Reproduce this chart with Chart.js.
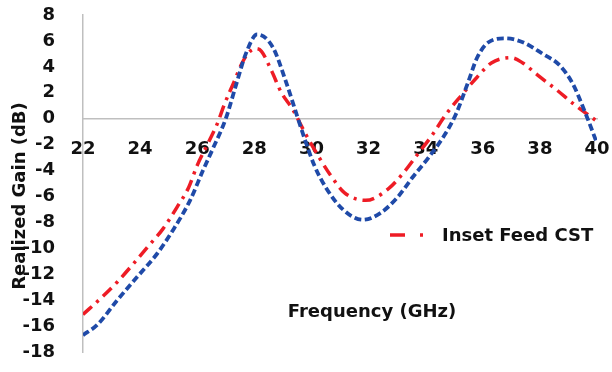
<!DOCTYPE html>
<html>
<head>
<meta charset="utf-8">
<script src="https://cdn.jsdelivr.net/npm/chart.js@4"></script>
<style>
  body { margin: 0; background: #fff; }
  canvas { display: block; }
</style>
</head>
<body>
<canvas id="gainChart" width="612" height="372"></canvas>
<script>
// frequency sweep (GHz) and realized gain (dB) for both curves
const blueFreq = [22, 22.5, 23.2, 23.9, 24.6, 25.15, 25.75, 26.2, 26.55, 27.0, 27.4, 27.7, 28.1, 28.65, 29.1, 29.5,
    29.8, 30.1, 30.5, 31.1, 31.8, 32.4, 33.0, 33.55, 34.1, 34.65, 35.05, 35.5, 35.8, 36.2, 36.8, 37.4, 38.1, 38.7, 39.15, 39.6, 40];
const blueGain = [-16.7, -15.9, -14.0, -12.2, -10.4, -8.6, -6.3, -4.0, -2.3, 0.0, 2.9, 5.0, 6.5, 5.5, 2.9, 0.2,
    -1.8, -3.6, -5.3, -7.0, -7.8, -7.3, -6.1, -4.5, -3.0, -1.3, 0.3, 2.9, 4.7, 5.9, 6.2, 5.9, 5.0, 4.1, 2.7, 0.4, -1.9];

const redFreq = [22, 22.65, 23.2, 23.8, 24.3, 24.8, 25.3, 25.7, 26.0, 26.4, 26.7, 26.96, 27.3, 27.55, 27.8, 28.05, 28.25, 28.6, 28.95, 29.35,
    29.8, 30.3, 30.65, 31.15, 31.9, 32.7, 33.25, 33.7, 34.25, 34.7, 35.25, 35.8, 36.3, 37.0, 37.4, 37.9, 38.6, 39.2, 40];
const redGain = [-15.1, -13.8, -12.6, -11.1, -9.8, -8.5, -6.8, -5.3, -3.6, -1.8, -0.4, 1.15, 2.9, 4.2, 5.1, 5.4, 5.2, 3.7, 2.0, 0.7,
    -1.2, -3.1, -4.3, -5.7, -6.3, -5.4, -4.1, -2.8, -1.2, 0.3, 1.8, 3.2, 4.3, 4.7, 4.3, 3.4, 2.2, 1.1, -0.2];

const xMin = 22, xMax = 40, xStep = 2;
const yMin = -18, yMax = 8, yStep = 2;

const RED = '#ee1c25';
const BLUE = '#1f4aa8';
const FONT = 'bold 18px "DejaVu Sans"';

function toPoints(xs, ys) {
    return xs.map((x, i) => ({ x: x, y: ys[i] }));
}

// axis titles and the single legend entry sit inside the plot area
const labelsPlugin = {
    id: 'labels',
    afterDraw(chart) {
        const c = chart.ctx;
        c.save();
        c.fillStyle = '#111';
        c.font = FONT;
        c.textBaseline = 'middle';

        c.textAlign = 'center';
        c.fillText('Frequency (GHz)', 372, 312);

        c.save();
        c.translate(20, 196);
        c.rotate(-Math.PI / 2);
        c.fillText('Realized Gain (dB)', 0, 0);
        c.restore();

        // legend: dash-dot sample + text
        c.strokeStyle = RED;
        c.lineWidth = 3.5;
        c.beginPath();
        c.moveTo(390, 235);
        c.lineTo(405, 235);
        c.moveTo(420, 235);
        c.lineTo(423, 235);
        c.stroke();
        c.textAlign = 'left';
        c.fillText('Inset Feed CST', 442, 236);
        c.restore();
    }
};

const ctx = document.getElementById('gainChart').getContext('2d');
const gainChart = new Chart(ctx, {
    type: 'line',
    data: {
        datasets: [
            {
                label: 'Inset Feed',
                data: toPoints(blueFreq, blueGain),
                borderColor: BLUE,
                borderWidth: 3.8,
                borderDash: [7, 3.5],
                pointRadius: 0,
                cubicInterpolationMode: 'monotone',
                fill: false
            },
            {
                label: 'Inset Feed CST',
                data: toPoints(redFreq, redGain),
                borderColor: RED,
                borderWidth: 3.5,
                borderDash: [12, 6, 3, 6],
                pointRadius: 0,
                cubicInterpolationMode: 'monotone',
                fill: false
            }
        ]
    },
    options: {
        responsive: false,
        animation: false,
        layout: { padding: { top: 15, right: 15, bottom: 20, left: 0 } },
        plugins: {
            legend: { display: false },
            tooltip: { enabled: false }
        },
        scales: {
            x: {
                type: 'linear',
                position: { y: 0 },
                min: xMin,
                max: xMax,
                grid: { display: false, drawTicks: false },
                border: { color: '#bfbfbf', width: 1.5 },
                ticks: {
                    stepSize: xStep,
                    padding: 20,
                    maxRotation: 0,
                    color: '#111',
                    font: { family: 'DejaVu Sans', size: 18, weight: 'bold' }
                },
                // the axis crosses at y = 0, so it should not take any room
                afterFit(scale) {
                    scale.height = 0;
                    scale.paddingLeft = 0;
                    scale.paddingRight = 0;
                }
            },
            y: {
                min: yMin,
                max: yMax,
                grid: { display: false, drawTicks: false },
                border: { color: '#bfbfbf', width: 1.5 },
                ticks: {
                    stepSize: yStep,
                    padding: 28,
                    color: '#111',
                    font: { family: 'DejaVu Sans', size: 18, weight: 'bold' }
                },
                afterFit(scale) {
                    scale.width = 83;
                    scale.paddingTop = 0;
                    scale.paddingBottom = 0;
                }
            }
        }
    },
    plugins: [labelsPlugin]
});
</script>
</body>
</html>
